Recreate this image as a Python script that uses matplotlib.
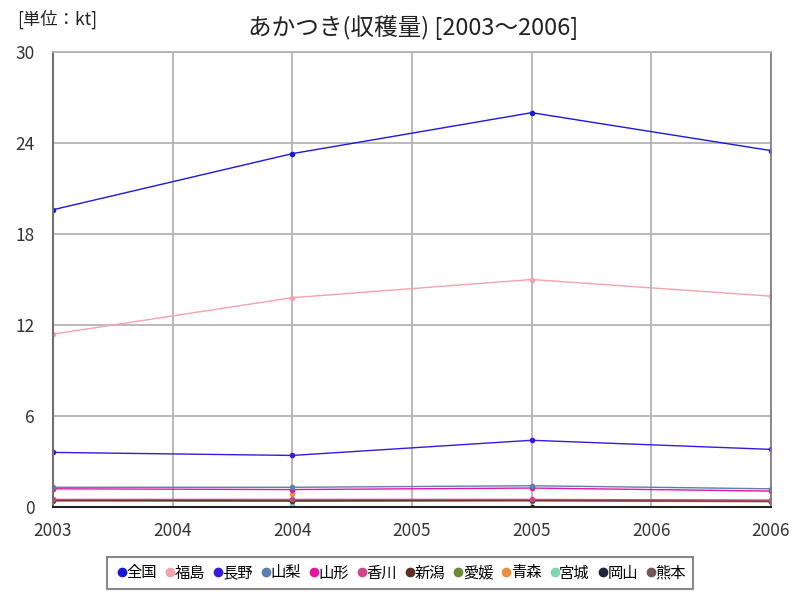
import numpy as np
import matplotlib.pyplot as plt

plt.rcParams['font.family'] = ['Noto Sans CJK JP', 'DejaVu Sans']

years = [2003, 2004, 2005, 2006]
nan = np.nan

# values in kt
zenkoku = [19.6, 23.3, 26.0, 23.5]
fukushima = [11.4, 13.8, 15.0, 13.9]
nagano = [3.6, 3.4, 4.4, 3.8]
yamanashi = [1.3, 1.3, 1.4, 1.2]
yamagata = [1.2, 1.15, 1.25, 1.05]
kagawa = [0.5, 0.5, 0.5, 0.45]
niigata = [0.45, 0.4, 0.45, 0.4]
ehime = [0.4, 0.4, 0.4, 0.35]
aomori = [nan, 0.85, nan, nan]
miyagi = [nan, 0.1, nan, nan]
okayama = [nan, nan, 0.03, nan]
kumamoto = [0.45, 0.45, 0.45, 0.45]

names = ['全国', '福島', '長野', '山梨', '山形', '香川', '新潟', '愛媛', '青森', '宮城', '岡山', '熊本']
series = [zenkoku, fukushima, nagano, yamanashi, yamagata, kagawa, niigata,
          ehime, aomori, miyagi, okayama, kumamoto]
colors = ['#1a1ad6', '#f4a3ac', '#3a18dc', '#5b7fae', '#e414a4', '#d0448e',
          '#5e2e22', '#6a8a36', '#e8903c', '#80d4b0', '#22243a', '#735656']

fig = plt.figure(figsize=(8, 6), dpi=100)
ax = fig.add_axes([0.06625, 0.155, 0.8975, 0.7583])

# draw small series first so the big ones sit on top
for name, vals, c in list(zip(names, series, colors))[::-1]:
    ax.plot(years, vals, color=c, lw=1.0, marker='o', markersize=3, label=name)

ax.set_xlim(2003, 2006)
ax.set_ylim(0, 30)
ax.set_yticks([0, 6, 12, 18, 24, 30])
ax.set_xticks([2003, 2003.5, 2004, 2004.5, 2005, 2005.5, 2006])
ax.set_xticklabels(['2003', '2004', '2004', '2005', '2005', '2006', '2006'])
ax.tick_params(length=0, labelsize=12.5, colors='#333333')
ax.tick_params(axis='x', pad=11)
ax.tick_params(axis='y', pad=13)
ax.grid(True, color='#b4b4b4', lw=1.3)
ax.set_axisbelow(True)
for s in ['top', 'right']:
    ax.spines[s].set_color('#b4b4b4')
    ax.spines[s].set_linewidth(1.3)
ax.spines['right'].set_color('#808080')
ax.spines['left'].set_color('#707070')
ax.spines['left'].set_linewidth(1.5)
ax.spines['bottom'].set_color('#222222')
ax.spines['bottom'].set_linewidth(1.5)

fig.text(0.516, 0.955, 'あかつき(収穫量) [2003～2006]', ha='center', va='center', fontsize=17, color='#222222')
fig.text(0.022, 0.968, '[単位：kt]', ha='left', va='center', fontsize=12.5, color='#222222')

handles, labels = ax.get_legend_handles_labels()
handles, labels = handles[::-1], labels[::-1]
handles = [plt.Line2D([], [], ls='', marker='o', markersize=6, color=h.get_color()) for h in handles]
leg = fig.legend(handles, labels, loc='center', bbox_to_anchor=(0.5, 0.045), ncol=12,
                 fontsize=11, handletextpad=-0.2, columnspacing=0.35, borderpad=0.5,
                 fancybox=False, framealpha=1, edgecolor='#888888', handlelength=1.0)
leg.get_frame().set_linewidth(1.5)

fig.savefig('out.png', dpi=100)
